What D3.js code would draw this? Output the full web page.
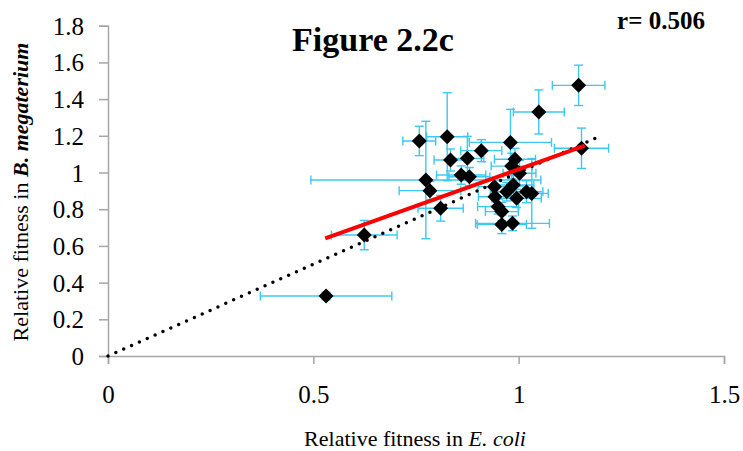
<!DOCTYPE html>
<html>
<head>
<meta charset="utf-8">
<script src="https://cdn.jsdelivr.net/npm/d3@7"></script>
<style>
  html, body { margin: 0; padding: 0; background: #fff; }
  svg { display: block; }
  text { font-family: "Liberation Serif", "Times New Roman", serif; fill: #000; }
</style>
</head>
<body>
<svg id="chart" width="743" height="451"></svg>
<script>
// Relative fitness of each strain in E. coli (x) and B. megaterium (y)
const fitnessEcoli = [0.531, 0.624, 0.758, 0.826, 0.774, 0.784, 0.810, 0.834, 0.875, 0.860,
                      0.880, 0.909, 0.980, 1.049, 1.146, 1.153, 0.991, 0.983, 1.002, 0.941,
                      0.987, 0.942, 0.995, 0.950, 0.959, 1.019, 1.032, 0.959, 0.985, 0.971];
const fitnessBmeg  = [0.327, 0.659, 1.172, 1.195, 0.959, 0.901, 0.805, 1.068, 1.077, 0.986,
                      0.977, 1.119, 1.164, 1.330, 1.475, 1.132, 1.072, 1.035, 0.996, 0.923,
                      0.932, 0.868, 0.859, 0.814, 0.787, 0.895, 0.886, 0.717, 0.723, 0.895];
// Error bar half-widths (standard error)
const errEcoli = [0.160, 0.080, 0.040, 0.050, 0.280, 0.075, 0.055, 0.040, 0.040, 0.060,
                  0.050, 0.050, 0.100, 0.062, 0.064, 0.066, 0.050, 0.050, 0.040, 0.040,
                  0.050, 0.040, 0.060, 0.050, 0.040, 0.040, 0.040, 0.060, 0.090, 0.040];
const errBmeg  = [0.020, 0.080, 0.080, 0.240, 0.320, 0.050, 0.070, 0.060, 0.120, 0.050,
                  0.050, 0.060, 0.180, 0.120, 0.110, 0.110, 0.060, 0.070, 0.070, 0.050,
                  0.060, 0.050, 0.050, 0.040, 0.050, 0.060, 0.190, 0.050, 0.040, 0.050];

// Least-squares trend line end points and the 1:1 reference line
const trendX = [0.529, 1.161];
const trendY = [0.641, 1.146];
const identityX = [0, 1.19];
const identityY = [0, 1.19];

const xTicks = [0, 0.5, 1, 1.5];
const yTicks = [0, 0.2, 0.4, 0.6, 0.8, 1, 1.2, 1.4, 1.6, 1.8];

const points = fitnessEcoli.map((x, i) => ({ x, y: fitnessBmeg[i], ex: errEcoli[i], ey: errBmeg[i] }));

const svg = d3.select("#chart");
const x = d3.scaleLinear().domain([0, 1.5]).range([108, 724]);
const y = d3.scaleLinear().domain([0, 1.8]).range([356, 25.7]);

const axisColor = "#a6a6a6";

// Axes
const gx = svg.append("g").attr("transform", `translate(0,${y(0)})`)
  .call(d3.axisBottom(x).tickValues(xTicks).tickSize(8).tickFormat(d3.format("")));
gx.select(".domain").attr("stroke", axisColor).attr("stroke-width", 1.5);
gx.selectAll(".tick line").attr("stroke", axisColor).attr("stroke-width", 1.5);
gx.selectAll(".tick text").attr("font-size", 25).attr("y", 47).attr("dy", 0)
  .attr("font-family", "Liberation Serif");

const gy = svg.append("g").attr("transform", `translate(${x(0)},0)`)
  .call(d3.axisLeft(y).tickValues(yTicks).tickSize(9).tickPadding(15).tickFormat(d3.format("")));
gy.select(".domain").attr("stroke", axisColor).attr("stroke-width", 1.5);
gy.selectAll(".tick line").attr("stroke", axisColor).attr("stroke-width", 1.5);
gy.selectAll(".tick text").attr("font-size", 25).attr("dy", "0.34em")
  .attr("font-family", "Liberation Serif");

// Error bars
const errColor = "#3cc8f2";
const cap = 4.5;
const eb = svg.append("g").attr("stroke", errColor).attr("stroke-width", 1.4).attr("fill", "none");
points.forEach(p => {
  const g = eb.append("g");
  g.append("line").attr("x1", x(p.x - p.ex)).attr("x2", x(p.x + p.ex)).attr("y1", y(p.y)).attr("y2", y(p.y));
  g.append("line").attr("x1", x(p.x - p.ex)).attr("x2", x(p.x - p.ex)).attr("y1", y(p.y) - cap).attr("y2", y(p.y) + cap);
  g.append("line").attr("x1", x(p.x + p.ex)).attr("x2", x(p.x + p.ex)).attr("y1", y(p.y) - cap).attr("y2", y(p.y) + cap);
  g.append("line").attr("x1", x(p.x)).attr("x2", x(p.x)).attr("y1", y(p.y - p.ey)).attr("y2", y(p.y + p.ey));
  g.append("line").attr("x1", x(p.x) - cap).attr("x2", x(p.x) + cap).attr("y1", y(p.y - p.ey)).attr("y2", y(p.y - p.ey));
  g.append("line").attr("x1", x(p.x) - cap).attr("x2", x(p.x) + cap).attr("y1", y(p.y + p.ey)).attr("y2", y(p.y + p.ey));
});

// Diamond markers
const hw = 7.5, hh = 7.5;
svg.append("g").selectAll("path").data(points).join("path")
  .attr("d", d => `M${x(d.x)},${y(d.y) - hh}L${x(d.x) + hw},${y(d.y)}L${x(d.x)},${y(d.y) + hh}L${x(d.x) - hw},${y(d.y)}Z`)
  .attr("fill", "#000");

// 1:1 dotted line
const line = d3.line().x(d => x(d[0])).y(d => y(d[1]));
svg.append("path")
  .attr("d", line(identityX.map((v, i) => [v, identityY[i]])))
  .attr("fill", "none").attr("stroke", "#000").attr("stroke-width", 3.5)
  .attr("stroke-linecap", "round").attr("stroke-dasharray", "0 8.6");

// Linear trend line
svg.append("path")
  .attr("d", line(trendX.map((v, i) => [v, trendY[i]])))
  .attr("fill", "none").attr("stroke", "#ff0000").attr("stroke-width", 4);

// Titles
svg.append("text").attr("x", 373).attr("y", 51).attr("text-anchor", "middle")
  .attr("font-size", 34).attr("font-weight", "bold").text("Figure 2.2c");
svg.append("text").attr("x", 661).attr("y", 29).attr("text-anchor", "middle")
  .attr("font-size", 25).attr("font-weight", "bold").text("r= 0.506");

const xt = svg.append("text").attr("x", 415).attr("y", 446).attr("text-anchor", "middle").attr("font-size", 22);
xt.append("tspan").text("Relative fitness in ");
xt.append("tspan").attr("font-style", "italic").text("E. coli");

const yt = svg.append("text").attr("transform", "translate(28,192) rotate(-90)")
  .attr("text-anchor", "middle").attr("font-size", 22);
yt.append("tspan").text("Relative fitness in ");
yt.append("tspan").attr("font-style", "italic").attr("font-weight", "bold").text("B. megaterium");
</script>
</body>
</html>
